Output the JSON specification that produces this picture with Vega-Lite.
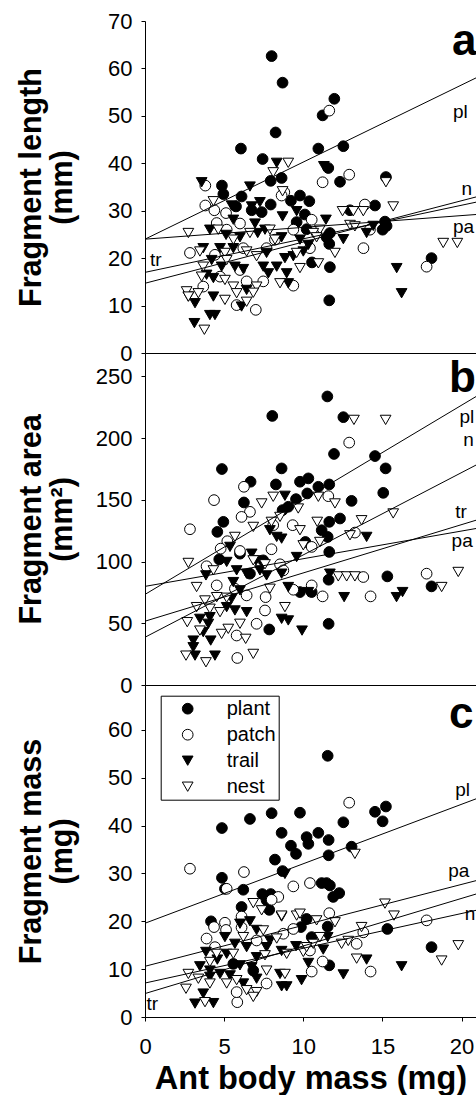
{
  "$schema": "https://vega.github.io/schema/vega-lite/v6.json",
  "background": "white",
  "padding": {"left": 16, "top": 10, "right": 0, "bottom": 0},
  "spacing": 0,
  "bounds": "flush",
  "config": {
    "font": "Liberation Sans",
    "view": {"stroke": null},
    "axis": {
      "grid": false,
      "domainColor": "black",
      "domainWidth": 1,
      "tickColor": "black",
      "tickWidth": 1,
      "tickSize": 4,
      "labelColor": "black",
      "labelFont": "Liberation Sans",
      "labelFontSize": 22,
      "labelFlush": false,
      "labelOverlap": false,
      "titleColor": "black",
      "titleFont": "Liberation Sans",
      "titleFontWeight": "bold"
    }
  },
  "datasets": {
    "lengthPts": [
      {"group": "plant", "x": 8.0, "y": 62.6}, {"group": "plant", "x": 8.69, "y": 57.0}, {"group": "plant", "x": 11.96, "y": 53.6}, {"group": "plant", "x": 11.22, "y": 50.1},
      {"group": "plant", "x": 8.25, "y": 46.5}, {"group": "plant", "x": 6.06, "y": 43.1}, {"group": "plant", "x": 10.95, "y": 43.1}, {"group": "plant", "x": 12.53, "y": 43.6},
      {"group": "plant", "x": 7.43, "y": 40.9}, {"group": "plant", "x": 11.58, "y": 39.0}, {"group": "plant", "x": 8.63, "y": 36.9}, {"group": "plant", "x": 7.94, "y": 36.3},
      {"group": "plant", "x": 12.32, "y": 36.1}, {"group": "plant", "x": 15.22, "y": 37.1}, {"group": "plant", "x": 4.86, "y": 35.3}, {"group": "plant", "x": 4.95, "y": 33.5},
      {"group": "plant", "x": 6.1, "y": 33.0}, {"group": "plant", "x": 9.79, "y": 33.2}, {"group": "plant", "x": 9.22, "y": 32.1}, {"group": "plant", "x": 10.38, "y": 32.0},
      {"group": "plant", "x": 7.94, "y": 31.3}, {"group": "plant", "x": 5.75, "y": 30.9}, {"group": "plant", "x": 14.53, "y": 31.1}, {"group": "plant", "x": 12.95, "y": 30.1},
      {"group": "plant", "x": 6.74, "y": 30.1}, {"group": "plant", "x": 7.37, "y": 29.7}, {"group": "plant", "x": 10.1, "y": 29.2}, {"group": "plant", "x": 9.58, "y": 27.6},
      {"group": "plant", "x": 10.21, "y": 26.1}, {"group": "plant", "x": 11.68, "y": 25.3}, {"group": "plant", "x": 11.64, "y": 23.0}, {"group": "plant", "x": 15.16, "y": 27.7},
      {"group": "plant", "x": 15.01, "y": 26.0}, {"group": "plant", "x": 15.26, "y": 26.8}, {"group": "plant", "x": 10.55, "y": 19.1}, {"group": "plant", "x": 11.68, "y": 18.1},
      {"group": "plant", "x": 18.1, "y": 20.0}, {"group": "plant", "x": 11.64, "y": 11.1}, {"group": "plant", "x": 11.47, "y": 24.4},
      {"group": "patch", "x": 11.64, "y": 51.1}, {"group": "patch", "x": 12.9, "y": 37.6}, {"group": "patch", "x": 11.22, "y": 36.0}, {"group": "patch", "x": 3.81, "y": 35.3},
      {"group": "patch", "x": 8.8, "y": 33.9}, {"group": "patch", "x": 8.63, "y": 33.2}, {"group": "patch", "x": 3.81, "y": 31.1}, {"group": "patch", "x": 4.38, "y": 30.1},
      {"group": "patch", "x": 5.12, "y": 29.5}, {"group": "patch", "x": 13.89, "y": 31.3}, {"group": "patch", "x": 14.21, "y": 26.0}, {"group": "patch", "x": 13.8, "y": 22.1},
      {"group": "patch", "x": 4.53, "y": 27.4}, {"group": "patch", "x": 6.0, "y": 27.3}, {"group": "patch", "x": 5.16, "y": 26.0}, {"group": "patch", "x": 10.53, "y": 28.1},
      {"group": "patch", "x": 9.37, "y": 26.0}, {"group": "patch", "x": 10.42, "y": 22.1}, {"group": "patch", "x": 7.68, "y": 22.1}, {"group": "patch", "x": 2.84, "y": 21.1},
      {"group": "patch", "x": 4.42, "y": 20.7}, {"group": "patch", "x": 6.0, "y": 17.5}, {"group": "patch", "x": 6.42, "y": 15.1}, {"group": "patch", "x": 7.47, "y": 15.1},
      {"group": "patch", "x": 9.37, "y": 14.2}, {"group": "patch", "x": 3.68, "y": 14.0}, {"group": "patch", "x": 4.74, "y": 16.1}, {"group": "patch", "x": 5.79, "y": 10.1},
      {"group": "patch", "x": 7.0, "y": 9.1}, {"group": "patch", "x": 17.79, "y": 18.2}, {"group": "patch", "x": 8.21, "y": 23.9}, {"group": "patch", "x": 6.21, "y": 22.1},
      {"group": "trail", "x": 3.58, "y": 36.0}, {"group": "trail", "x": 8.32, "y": 40.1}, {"group": "trail", "x": 11.3, "y": 39.4}, {"group": "trail", "x": 6.63, "y": 35.1},
      {"group": "trail", "x": 5.47, "y": 31.1}, {"group": "trail", "x": 7.26, "y": 31.8}, {"group": "trail", "x": 6.74, "y": 30.9}, {"group": "trail", "x": 9.58, "y": 29.9},
      {"group": "trail", "x": 8.69, "y": 28.8}, {"group": "trail", "x": 5.58, "y": 28.1}, {"group": "trail", "x": 6.95, "y": 27.3}, {"group": "trail", "x": 11.43, "y": 28.1},
      {"group": "trail", "x": 4.1, "y": 26.0}, {"group": "trail", "x": 5.12, "y": 24.9}, {"group": "trail", "x": 6.0, "y": 24.4}, {"group": "trail", "x": 7.58, "y": 26.0},
      {"group": "trail", "x": 7.12, "y": 25.3}, {"group": "trail", "x": 8.63, "y": 24.4}, {"group": "trail", "x": 12.53, "y": 24.0}, {"group": "trail", "x": 14.0, "y": 25.3},
      {"group": "trail", "x": 14.42, "y": 26.8}, {"group": "trail", "x": 9.79, "y": 23.9}, {"group": "trail", "x": 10.32, "y": 22.8}, {"group": "trail", "x": 3.68, "y": 22.1},
      {"group": "trail", "x": 4.74, "y": 22.1}, {"group": "trail", "x": 5.58, "y": 22.1}, {"group": "trail", "x": 7.68, "y": 21.1}, {"group": "trail", "x": 8.84, "y": 20.0},
      {"group": "trail", "x": 9.37, "y": 20.4}, {"group": "trail", "x": 10.0, "y": 21.4}, {"group": "trail", "x": 4.21, "y": 19.6}, {"group": "trail", "x": 4.84, "y": 18.2},
      {"group": "trail", "x": 5.68, "y": 18.2}, {"group": "trail", "x": 6.21, "y": 17.7}, {"group": "trail", "x": 7.47, "y": 18.2}, {"group": "trail", "x": 8.32, "y": 18.2},
      {"group": "trail", "x": 15.9, "y": 17.9}, {"group": "trail", "x": 8.95, "y": 16.8}, {"group": "trail", "x": 7.79, "y": 16.8}, {"group": "trail", "x": 3.89, "y": 16.5},
      {"group": "trail", "x": 4.32, "y": 15.8}, {"group": "trail", "x": 9.05, "y": 14.7}, {"group": "trail", "x": 4.32, "y": 11.9}, {"group": "trail", "x": 2.74, "y": 11.9},
      {"group": "trail", "x": 3.16, "y": 10.5}, {"group": "trail", "x": 3.12, "y": 6.3}, {"group": "trail", "x": 6.1, "y": 9.8}, {"group": "trail", "x": 4.1, "y": 8.0},
      {"group": "trail", "x": 4.42, "y": 8.0}, {"group": "trail", "x": 16.21, "y": 12.6}, {"group": "trail", "x": 6.42, "y": 13.3},
      {"group": "nest", "x": 9.05, "y": 40.1}, {"group": "nest", "x": 8.1, "y": 38.1}, {"group": "nest", "x": 15.22, "y": 36.0}, {"group": "nest", "x": 8.69, "y": 34.1},
      {"group": "nest", "x": 4.32, "y": 32.0}, {"group": "nest", "x": 15.68, "y": 30.9}, {"group": "nest", "x": 12.48, "y": 29.9}, {"group": "nest", "x": 13.16, "y": 29.9},
      {"group": "nest", "x": 13.79, "y": 29.9}, {"group": "nest", "x": 2.74, "y": 25.3}, {"group": "nest", "x": 4.63, "y": 26.0}, {"group": "nest", "x": 7.89, "y": 26.0},
      {"group": "nest", "x": 6.63, "y": 25.3}, {"group": "nest", "x": 11.05, "y": 26.0}, {"group": "nest", "x": 10.63, "y": 25.3}, {"group": "nest", "x": 12.95, "y": 27.0},
      {"group": "nest", "x": 13.26, "y": 26.7}, {"group": "nest", "x": 8.21, "y": 23.9}, {"group": "nest", "x": 10.84, "y": 24.4}, {"group": "nest", "x": 5.58, "y": 23.9},
      {"group": "nest", "x": 3.47, "y": 21.4}, {"group": "nest", "x": 5.05, "y": 21.1}, {"group": "nest", "x": 6.42, "y": 21.4}, {"group": "nest", "x": 7.05, "y": 20.4},
      {"group": "nest", "x": 12.0, "y": 21.1}, {"group": "nest", "x": 9.58, "y": 21.1}, {"group": "nest", "x": 10.95, "y": 18.9}, {"group": "nest", "x": 5.16, "y": 19.6},
      {"group": "nest", "x": 9.79, "y": 17.9}, {"group": "nest", "x": 3.68, "y": 18.2}, {"group": "nest", "x": 3.58, "y": 16.1}, {"group": "nest", "x": 5.05, "y": 15.4},
      {"group": "nest", "x": 5.58, "y": 14.0}, {"group": "nest", "x": 8.53, "y": 14.7}, {"group": "nest", "x": 7.05, "y": 14.0}, {"group": "nest", "x": 2.63, "y": 13.0},
      {"group": "nest", "x": 3.37, "y": 12.6}, {"group": "nest", "x": 2.74, "y": 11.9}, {"group": "nest", "x": 5.05, "y": 11.2}, {"group": "nest", "x": 5.79, "y": 12.6},
      {"group": "nest", "x": 6.84, "y": 12.7}, {"group": "nest", "x": 6.42, "y": 10.8}, {"group": "nest", "x": 3.75, "y": 4.9}, {"group": "nest", "x": 18.84, "y": 23.2},
      {"group": "nest", "x": 19.73, "y": 23.2}
    ],
    "areaPts": [
      {"group": "plant", "x": 11.52, "y": 233.8}, {"group": "plant", "x": 8.04, "y": 218.0}, {"group": "plant", "x": 12.53, "y": 217.0}, {"group": "plant", "x": 11.94, "y": 187.2},
      {"group": "plant", "x": 14.53, "y": 185.5}, {"group": "plant", "x": 4.86, "y": 175.0}, {"group": "plant", "x": 8.63, "y": 175.5}, {"group": "plant", "x": 15.2, "y": 175.5},
      {"group": "plant", "x": 6.67, "y": 164.7}, {"group": "plant", "x": 8.27, "y": 162.5}, {"group": "plant", "x": 9.79, "y": 164.7}, {"group": "plant", "x": 10.32, "y": 167.4},
      {"group": "plant", "x": 10.95, "y": 160.6}, {"group": "plant", "x": 11.64, "y": 162.5}, {"group": "plant", "x": 10.25, "y": 155.2}, {"group": "plant", "x": 6.25, "y": 147.9},
      {"group": "plant", "x": 9.54, "y": 150.6}, {"group": "plant", "x": 13.05, "y": 149.2}, {"group": "plant", "x": 15.05, "y": 155.7}, {"group": "plant", "x": 9.05, "y": 144.4},
      {"group": "plant", "x": 8.69, "y": 141.7}, {"group": "plant", "x": 4.95, "y": 132.2}, {"group": "plant", "x": 11.64, "y": 132.2}, {"group": "plant", "x": 12.32, "y": 134.9},
      {"group": "plant", "x": 4.57, "y": 124.1}, {"group": "plant", "x": 11.16, "y": 125.4}, {"group": "plant", "x": 11.54, "y": 120.0}, {"group": "plant", "x": 10.13, "y": 115.9},
      {"group": "plant", "x": 11.64, "y": 107.8}, {"group": "plant", "x": 4.69, "y": 101.8}, {"group": "plant", "x": 11.6, "y": 85.3}, {"group": "plant", "x": 15.31, "y": 88.0},
      {"group": "plant", "x": 9.79, "y": 75.3}, {"group": "plant", "x": 10.53, "y": 75.3}, {"group": "plant", "x": 18.1, "y": 79.9}, {"group": "plant", "x": 7.85, "y": 45.0},
      {"group": "plant", "x": 11.6, "y": 49.6}, {"group": "plant", "x": 6.0, "y": 106.4}, {"group": "plant", "x": 7.47, "y": 101.0}, {"group": "plant", "x": 6.63, "y": 90.2},
      {"group": "patch", "x": 2.84, "y": 126.2}, {"group": "patch", "x": 4.36, "y": 149.8}, {"group": "patch", "x": 6.25, "y": 160.6}, {"group": "patch", "x": 6.63, "y": 140.3},
      {"group": "patch", "x": 6.1, "y": 136.2}, {"group": "patch", "x": 12.9, "y": 196.4}, {"group": "patch", "x": 11.58, "y": 153.0}, {"group": "patch", "x": 9.33, "y": 129.5},
      {"group": "patch", "x": 13.26, "y": 123.5}, {"group": "patch", "x": 8.1, "y": 129.5}, {"group": "patch", "x": 10.53, "y": 111.9}, {"group": "patch", "x": 7.99, "y": 110.0},
      {"group": "patch", "x": 5.2, "y": 116.5}, {"group": "patch", "x": 4.78, "y": 110.5}, {"group": "patch", "x": 6.0, "y": 108.6}, {"group": "patch", "x": 8.53, "y": 97.8},
      {"group": "patch", "x": 3.89, "y": 96.2}, {"group": "patch", "x": 4.53, "y": 80.7}, {"group": "patch", "x": 5.68, "y": 78.0}, {"group": "patch", "x": 6.42, "y": 72.6},
      {"group": "patch", "x": 7.62, "y": 71.2}, {"group": "patch", "x": 9.37, "y": 77.2}, {"group": "patch", "x": 10.53, "y": 80.7}, {"group": "patch", "x": 11.22, "y": 71.8},
      {"group": "patch", "x": 13.79, "y": 87.5}, {"group": "patch", "x": 14.25, "y": 71.8}, {"group": "patch", "x": 17.79, "y": 90.2}, {"group": "patch", "x": 7.58, "y": 60.4},
      {"group": "patch", "x": 7.05, "y": 49.6}, {"group": "patch", "x": 5.79, "y": 40.1}, {"group": "patch", "x": 5.83, "y": 21.9}, {"group": "patch", "x": 8.74, "y": 92.9},
      {"group": "trail", "x": 8.84, "y": 153.3}, {"group": "trail", "x": 7.89, "y": 125.4}, {"group": "trail", "x": 8.32, "y": 120.0}, {"group": "trail", "x": 8.63, "y": 118.6},
      {"group": "trail", "x": 14.0, "y": 120.0}, {"group": "trail", "x": 6.74, "y": 106.4}, {"group": "trail", "x": 9.58, "y": 103.7}, {"group": "trail", "x": 5.37, "y": 111.9},
      {"group": "trail", "x": 3.85, "y": 88.8}, {"group": "trail", "x": 5.16, "y": 99.7}, {"group": "trail", "x": 5.79, "y": 92.9}, {"group": "trail", "x": 7.01, "y": 101.0},
      {"group": "trail", "x": 7.26, "y": 92.9}, {"group": "trail", "x": 7.68, "y": 88.8}, {"group": "trail", "x": 8.63, "y": 90.2}, {"group": "trail", "x": 9.05, "y": 79.4},
      {"group": "trail", "x": 5.58, "y": 83.4}, {"group": "trail", "x": 6.42, "y": 90.2}, {"group": "trail", "x": 6.0, "y": 76.7}, {"group": "trail", "x": 5.47, "y": 69.9},
      {"group": "trail", "x": 5.16, "y": 63.1}, {"group": "trail", "x": 5.68, "y": 60.4}, {"group": "trail", "x": 6.42, "y": 59.0}, {"group": "trail", "x": 3.47, "y": 53.6},
      {"group": "trail", "x": 4.1, "y": 55.0}, {"group": "trail", "x": 4.0, "y": 49.6}, {"group": "trail", "x": 8.63, "y": 53.6}, {"group": "trail", "x": 9.05, "y": 52.3},
      {"group": "trail", "x": 9.92, "y": 44.1}, {"group": "trail", "x": 11.68, "y": 90.2}, {"group": "trail", "x": 12.58, "y": 71.2}, {"group": "trail", "x": 15.89, "y": 71.2},
      {"group": "trail", "x": 16.27, "y": 75.3}, {"group": "trail", "x": 3.68, "y": 42.8}, {"group": "trail", "x": 3.05, "y": 36.0}, {"group": "trail", "x": 4.15, "y": 36.0},
      {"group": "trail", "x": 3.05, "y": 30.6}, {"group": "trail", "x": 3.16, "y": 23.8}, {"group": "trail", "x": 4.42, "y": 23.8}, {"group": "trail", "x": 10.32, "y": 75.3},
      {"group": "nest", "x": 13.2, "y": 214.8}, {"group": "nest", "x": 15.2, "y": 214.8}, {"group": "nest", "x": 7.37, "y": 147.1}, {"group": "nest", "x": 8.1, "y": 152.5},
      {"group": "nest", "x": 10.95, "y": 152.5}, {"group": "nest", "x": 12.0, "y": 147.1}, {"group": "nest", "x": 9.68, "y": 143.0}, {"group": "nest", "x": 8.53, "y": 136.2},
      {"group": "nest", "x": 10.88, "y": 132.2}, {"group": "nest", "x": 13.68, "y": 133.5}, {"group": "nest", "x": 15.68, "y": 139.0}, {"group": "nest", "x": 6.84, "y": 128.1},
      {"group": "nest", "x": 7.99, "y": 132.2}, {"group": "nest", "x": 12.95, "y": 121.3}, {"group": "nest", "x": 9.79, "y": 125.4}, {"group": "nest", "x": 11.05, "y": 115.9},
      {"group": "nest", "x": 10.0, "y": 113.2}, {"group": "nest", "x": 5.68, "y": 120.0}, {"group": "nest", "x": 2.74, "y": 98.9}, {"group": "nest", "x": 4.32, "y": 92.9},
      {"group": "nest", "x": 6.84, "y": 101.0}, {"group": "nest", "x": 7.58, "y": 97.8}, {"group": "nest", "x": 12.21, "y": 88.0}, {"group": "nest", "x": 12.74, "y": 88.0},
      {"group": "nest", "x": 13.26, "y": 88.0}, {"group": "nest", "x": 19.79, "y": 91.6}, {"group": "nest", "x": 18.74, "y": 79.4}, {"group": "nest", "x": 3.26, "y": 79.4},
      {"group": "nest", "x": 3.79, "y": 68.5}, {"group": "nest", "x": 4.53, "y": 71.2}, {"group": "nest", "x": 5.16, "y": 70.7}, {"group": "nest", "x": 7.89, "y": 78.0},
      {"group": "nest", "x": 3.26, "y": 63.1}, {"group": "nest", "x": 4.1, "y": 61.8}, {"group": "nest", "x": 4.74, "y": 59.0}, {"group": "nest", "x": 2.67, "y": 50.9},
      {"group": "nest", "x": 3.47, "y": 44.1}, {"group": "nest", "x": 4.84, "y": 41.4}, {"group": "nest", "x": 5.26, "y": 45.5}, {"group": "nest", "x": 6.36, "y": 37.4},
      {"group": "nest", "x": 8.84, "y": 63.1}, {"group": "nest", "x": 2.59, "y": 23.8}, {"group": "nest", "x": 3.85, "y": 18.4}, {"group": "nest", "x": 6.84, "y": 25.2},
      {"group": "nest", "x": 6.0, "y": 49.6}
    ],
    "massPts": [
      {"group": "plant", "x": 11.54, "y": 54.6}, {"group": "plant", "x": 4.86, "y": 39.5}, {"group": "plant", "x": 6.63, "y": 41.4}, {"group": "plant", "x": 8.0, "y": 42.6},
      {"group": "plant", "x": 9.79, "y": 42.7}, {"group": "plant", "x": 12.53, "y": 40.7}, {"group": "plant", "x": 14.53, "y": 42.9}, {"group": "plant", "x": 15.22, "y": 44.0},
      {"group": "plant", "x": 15.01, "y": 40.9}, {"group": "plant", "x": 8.63, "y": 38.5}, {"group": "plant", "x": 10.21, "y": 37.6}, {"group": "plant", "x": 10.32, "y": 36.2},
      {"group": "plant", "x": 10.95, "y": 38.5}, {"group": "plant", "x": 11.6, "y": 37.0}, {"group": "plant", "x": 9.22, "y": 35.8}, {"group": "plant", "x": 9.54, "y": 34.1},
      {"group": "plant", "x": 13.05, "y": 35.6}, {"group": "plant", "x": 11.6, "y": 33.8}, {"group": "plant", "x": 8.21, "y": 32.9}, {"group": "plant", "x": 8.69, "y": 30.5},
      {"group": "plant", "x": 4.86, "y": 29.1}, {"group": "plant", "x": 5.05, "y": 26.8}, {"group": "plant", "x": 6.21, "y": 26.6}, {"group": "plant", "x": 11.16, "y": 28.0},
      {"group": "plant", "x": 11.47, "y": 28.0}, {"group": "plant", "x": 11.68, "y": 27.5}, {"group": "plant", "x": 11.89, "y": 25.1}, {"group": "plant", "x": 12.27, "y": 25.9},
      {"group": "plant", "x": 7.41, "y": 25.7}, {"group": "plant", "x": 7.68, "y": 24.4}, {"group": "plant", "x": 7.94, "y": 25.7}, {"group": "plant", "x": 6.1, "y": 23.0},
      {"group": "plant", "x": 7.85, "y": 22.4}, {"group": "plant", "x": 4.17, "y": 20.0}, {"group": "plant", "x": 10.21, "y": 20.5}, {"group": "plant", "x": 9.85, "y": 18.8},
      {"group": "plant", "x": 11.54, "y": 18.9}, {"group": "plant", "x": 15.31, "y": 18.4}, {"group": "plant", "x": 10.53, "y": 16.7}, {"group": "plant", "x": 11.64, "y": 10.8},
      {"group": "plant", "x": 18.1, "y": 14.6}, {"group": "plant", "x": 5.58, "y": 11.1}, {"group": "plant", "x": 6.84, "y": 9.7},
      {"group": "patch", "x": 12.9, "y": 44.8}, {"group": "patch", "x": 2.84, "y": 31.0}, {"group": "patch", "x": 6.25, "y": 30.3}, {"group": "patch", "x": 10.42, "y": 28.0},
      {"group": "patch", "x": 9.37, "y": 27.3}, {"group": "patch", "x": 5.16, "y": 26.8}, {"group": "patch", "x": 8.42, "y": 25.1}, {"group": "patch", "x": 8.0, "y": 24.5},
      {"group": "patch", "x": 11.64, "y": 21.7}, {"group": "patch", "x": 6.1, "y": 21.0}, {"group": "patch", "x": 5.05, "y": 19.7}, {"group": "patch", "x": 4.36, "y": 18.8},
      {"group": "patch", "x": 5.12, "y": 18.2}, {"group": "patch", "x": 6.1, "y": 18.7}, {"group": "patch", "x": 9.37, "y": 18.4}, {"group": "patch", "x": 3.89, "y": 16.4},
      {"group": "patch", "x": 4.42, "y": 14.6}, {"group": "patch", "x": 13.79, "y": 17.7}, {"group": "patch", "x": 13.37, "y": 15.3}, {"group": "patch", "x": 17.79, "y": 20.2},
      {"group": "patch", "x": 11.22, "y": 11.6}, {"group": "patch", "x": 10.53, "y": 9.5}, {"group": "patch", "x": 14.25, "y": 9.5}, {"group": "patch", "x": 7.68, "y": 7.0},
      {"group": "patch", "x": 5.83, "y": 3.1}, {"group": "patch", "x": 5.79, "y": 5.2}, {"group": "patch", "x": 10.42, "y": 13.9}, {"group": "patch", "x": 7.05, "y": 16.0},
      {"group": "patch", "x": 8.74, "y": 17.4},
      {"group": "trail", "x": 8.84, "y": 29.9}, {"group": "trail", "x": 6.63, "y": 20.0}, {"group": "trail", "x": 8.63, "y": 21.0}, {"group": "trail", "x": 7.05, "y": 18.2},
      {"group": "trail", "x": 7.89, "y": 16.0}, {"group": "trail", "x": 11.54, "y": 16.7}, {"group": "trail", "x": 6.0, "y": 19.5}, {"group": "trail", "x": 5.05, "y": 16.7},
      {"group": "trail", "x": 5.68, "y": 15.3}, {"group": "trail", "x": 6.42, "y": 14.6}, {"group": "trail", "x": 3.85, "y": 13.6}, {"group": "trail", "x": 9.54, "y": 14.8},
      {"group": "trail", "x": 11.26, "y": 14.1}, {"group": "trail", "x": 8.63, "y": 13.8}, {"group": "trail", "x": 4.57, "y": 12.0}, {"group": "trail", "x": 5.16, "y": 13.2},
      {"group": "trail", "x": 7.05, "y": 12.5}, {"group": "trail", "x": 7.68, "y": 14.6}, {"group": "trail", "x": 10.32, "y": 11.3}, {"group": "trail", "x": 14.0, "y": 12.0},
      {"group": "trail", "x": 3.47, "y": 10.6}, {"group": "trail", "x": 4.1, "y": 9.7}, {"group": "trail", "x": 6.0, "y": 10.8}, {"group": "trail", "x": 6.74, "y": 10.4},
      {"group": "trail", "x": 8.53, "y": 9.0}, {"group": "trail", "x": 4.1, "y": 8.4}, {"group": "trail", "x": 4.74, "y": 9.0}, {"group": "trail", "x": 5.37, "y": 8.7},
      {"group": "trail", "x": 6.21, "y": 7.0}, {"group": "trail", "x": 7.05, "y": 8.0}, {"group": "trail", "x": 12.53, "y": 8.9}, {"group": "trail", "x": 16.21, "y": 10.6},
      {"group": "trail", "x": 8.63, "y": 6.4}, {"group": "trail", "x": 9.89, "y": 7.7}, {"group": "trail", "x": 8.95, "y": 6.4}, {"group": "trail", "x": 3.68, "y": 4.9},
      {"group": "trail", "x": 3.16, "y": 2.8}, {"group": "trail", "x": 4.32, "y": 2.9},
      {"group": "nest", "x": 13.26, "y": 34.1}, {"group": "nest", "x": 15.16, "y": 23.7}, {"group": "nest", "x": 15.73, "y": 21.2}, {"group": "nest", "x": 12.0, "y": 19.8},
      {"group": "nest", "x": 6.84, "y": 23.8}, {"group": "nest", "x": 7.37, "y": 22.3}, {"group": "nest", "x": 8.63, "y": 21.2}, {"group": "nest", "x": 9.58, "y": 21.2},
      {"group": "nest", "x": 9.79, "y": 21.6}, {"group": "nest", "x": 10.84, "y": 20.2}, {"group": "nest", "x": 13.68, "y": 18.8}, {"group": "nest", "x": 12.84, "y": 15.9},
      {"group": "nest", "x": 12.42, "y": 15.3}, {"group": "nest", "x": 13.37, "y": 12.2}, {"group": "nest", "x": 19.79, "y": 15.0}, {"group": "nest", "x": 18.74, "y": 11.8},
      {"group": "nest", "x": 7.47, "y": 18.1}, {"group": "nest", "x": 8.32, "y": 16.4}, {"group": "nest", "x": 8.95, "y": 13.2}, {"group": "nest", "x": 10.63, "y": 15.3},
      {"group": "nest", "x": 10.0, "y": 13.6}, {"group": "nest", "x": 11.05, "y": 16.7}, {"group": "nest", "x": 6.21, "y": 16.7}, {"group": "nest", "x": 5.58, "y": 13.2},
      {"group": "nest", "x": 4.53, "y": 13.2}, {"group": "nest", "x": 4.1, "y": 11.5}, {"group": "nest", "x": 7.58, "y": 12.9}, {"group": "nest", "x": 7.68, "y": 9.7},
      {"group": "nest", "x": 8.84, "y": 9.0}, {"group": "nest", "x": 2.74, "y": 9.0}, {"group": "nest", "x": 3.37, "y": 8.0}, {"group": "nest", "x": 2.59, "y": 5.9},
      {"group": "nest", "x": 4.1, "y": 7.0}, {"group": "nest", "x": 5.16, "y": 7.0}, {"group": "nest", "x": 5.79, "y": 7.7}, {"group": "nest", "x": 6.42, "y": 5.6},
      {"group": "nest", "x": 7.05, "y": 5.2}, {"group": "nest", "x": 6.84, "y": 4.2}, {"group": "nest", "x": 3.79, "y": 3.1}, {"group": "nest", "x": 10.21, "y": 14.6}
    ],
    "fits": [
      {"panel": "a", "fit": "pl", "x": 0, "y": 24.0}, {"panel": "a", "fit": "pl", "x": 20.91, "y": 58.0},
      {"panel": "a", "fit": "pa", "x": 0, "y": 24.0}, {"panel": "a", "fit": "pa", "x": 20.91, "y": 29.2},
      {"panel": "a", "fit": "tr", "x": 0, "y": 17.0}, {"panel": "a", "fit": "tr", "x": 20.91, "y": 31.8},
      {"panel": "a", "fit": "n", "x": 0, "y": 14.7}, {"panel": "a", "fit": "n", "x": 20.91, "y": 32.9},
      {"panel": "b", "fit": "pl", "x": 0, "y": 73.4}, {"panel": "b", "fit": "pl", "x": 20.91, "y": 233.7},
      {"panel": "b", "fit": "pa", "x": 0, "y": 79.9}, {"panel": "b", "fit": "pa", "x": 20.91, "y": 126.8},
      {"panel": "b", "fit": "tr", "x": 0, "y": 51.7}, {"panel": "b", "fit": "tr", "x": 20.91, "y": 133.5},
      {"panel": "b", "fit": "n", "x": 0, "y": 38.7}, {"panel": "b", "fit": "n", "x": 20.91, "y": 178.2},
      {"panel": "c", "fit": "pl", "x": 0, "y": 19.6}, {"panel": "c", "fit": "pl", "x": 20.91, "y": 45.6},
      {"panel": "c", "fit": "pa", "x": 0, "y": 10.6}, {"panel": "c", "fit": "pa", "x": 20.91, "y": 28.5},
      {"panel": "c", "fit": "n", "x": 0, "y": 7.1}, {"panel": "c", "fit": "n", "x": 20.91, "y": 22.3},
      {"panel": "c", "fit": "tr", "x": 0, "y": 4.9}, {"panel": "c", "fit": "tr", "x": 20.91, "y": 25.7}
    ],
    "tags": [
      {"panel": "a", "tag": "pl", "x": 19.46, "y": 49.6}, {"panel": "a", "tag": "n", "x": 20.0, "y": 33.4},
      {"panel": "a", "tag": "pa", "x": 19.46, "y": 25.4}, {"panel": "a", "tag": "tr", "x": 0.32, "y": 18.3},
      {"panel": "b", "tag": "pl", "x": 19.86, "y": 212.0}, {"panel": "b", "tag": "n", "x": 20.1, "y": 193.5},
      {"panel": "b", "tag": "tr", "x": 19.6, "y": 135.0}, {"panel": "b", "tag": "pa", "x": 19.37, "y": 111.9},
      {"panel": "c", "tag": "pl", "x": 19.6, "y": 46.3}, {"panel": "c", "tag": "pa", "x": 19.16, "y": 29.2},
      {"panel": "c", "tag": "n", "x": 20.2, "y": 20.2}, {"panel": "c", "tag": "tr", "x": 0.1, "y": 1.4}
    ],
    "letters": [
      {"panel": "a", "letter": "a", "x": 19.4, "y": 62.9},
      {"panel": "b", "letter": "b", "x": 19.2, "y": 237.6},
      {"panel": "c", "letter": "c", "x": 19.2, "y": 60.5}
    ]
  },
  "resolve": {
    "scale": {"y": "independent"},
    "legend": {"fill": "independent", "shape": "independent", "stroke": "independent"}
  },
  "vconcat": [
    {
      "width": 331,
      "height": 332,
      "layer": [
        {
          "data": {"name": "lengthPts"},
          "mark": {"type": "point", "filled": true, "strokeWidth": 1, "opacity": 1},
          "encoding": {
            "x": {"field": "x", "type": "quantitative", "scale": {"domain": [0, 20.91], "nice": false, "zero": false},
                  "axis": {"labels": false, "ticks": false, "title": null}},
            "y": {"field": "y", "type": "quantitative", "scale": {"domain": [0, 70], "nice": false},
                  "axis": {"values": [0, 10, 20, 30, 40, 50, 60, 70], "labelPadding": 9,
                           "title": ["Fragment length", "(mm)"], "titleFontSize": 30.5, "titleAngle": 270,
                           "titleAlign": "center", "titleBaseline": "alphabetic", "titleLineHeight": 31,
                           "titleX": -104.4, "titleY": 166}},
            "fill": {"field": "group", "type": "nominal", "scale": {"domain": ["plant", "patch", "trail", "nest"], "range": ["black", "white", "black", "white"]}, "legend": null},
            "stroke": {"field": "group", "type": "nominal", "scale": {"domain": ["plant", "patch", "trail", "nest"], "range": ["black", "black", "black", "black"]}, "legend": null},
            "shape": {"field": "group", "type": "nominal", "scale": {"domain": ["plant", "patch", "trail", "nest"], "range": ["circle", "circle", "triangle-down", "triangle-down"]}, "legend": null},
            "size": {"field": "group", "type": "nominal", "scale": {"domain": ["plant", "patch", "trail", "nest"], "range": [115, 115, 150, 150]}, "legend": null}
          }
        },
        {
          "data": {"name": "fits"},
          "transform": [{"filter": "datum.panel === 'a'"}],
          "mark": {"type": "line", "color": "black", "strokeWidth": 1, "clip": true},
          "encoding": {
            "x": {"field": "x", "type": "quantitative"},
            "y": {"field": "y", "type": "quantitative"},
            "detail": {"field": "fit"}
          }
        },
        {
          "data": {"name": "tags"},
          "transform": [{"filter": "datum.panel === 'a'"}],
          "mark": {"type": "text", "align": "left", "baseline": "alphabetic", "font": "Liberation Sans", "fontSize": 19, "color": "black", "clip": true},
          "encoding": {
            "x": {"field": "x", "type": "quantitative"},
            "y": {"field": "y", "type": "quantitative"},
            "text": {"field": "tag"}
          }
        },
        {
          "data": {"name": "letters"},
          "transform": [{"filter": "datum.panel === 'a'"}],
          "mark": {"type": "text", "align": "left", "baseline": "alphabetic", "font": "Liberation Sans", "fontSize": 44, "fontWeight": "bold", "color": "black", "clip": true},
          "encoding": {
            "x": {"field": "x", "type": "quantitative"},
            "y": {"field": "y", "type": "quantitative"},
            "text": {"field": "letter"}
          }
        },
        {
          "mark": {"type": "rule", "color": "black", "strokeWidth": 1},
          "encoding": {"y": {"datum": 70}}
        }
      ]
    },
    {
      "width": 331,
      "height": 332,
      "layer": [
        {
          "data": {"name": "areaPts"},
          "mark": {"type": "point", "filled": true, "strokeWidth": 1, "opacity": 1},
          "encoding": {
            "x": {"field": "x", "type": "quantitative", "scale": {"domain": [0, 20.91], "nice": false, "zero": false},
                  "axis": {"labels": false, "ticks": false, "title": null}},
            "y": {"field": "y", "type": "quantitative", "scale": {"domain": [0, 269], "nice": false},
                  "axis": {"values": [0, 50, 100, 150, 200, 250], "labelPadding": 9,
                           "title": ["Fragment area", "(mm²)"], "titleFontSize": 30.5, "titleAngle": 270,
                           "titleAlign": "center", "titleBaseline": "alphabetic", "titleLineHeight": 31,
                           "titleX": -104.4, "titleY": 166}},
            "fill": {"field": "group", "type": "nominal", "scale": {"domain": ["plant", "patch", "trail", "nest"], "range": ["black", "white", "black", "white"]}, "legend": null},
            "stroke": {"field": "group", "type": "nominal", "scale": {"domain": ["plant", "patch", "trail", "nest"], "range": ["black", "black", "black", "black"]}, "legend": null},
            "shape": {"field": "group", "type": "nominal", "scale": {"domain": ["plant", "patch", "trail", "nest"], "range": ["circle", "circle", "triangle-down", "triangle-down"]}, "legend": null},
            "size": {"field": "group", "type": "nominal", "scale": {"domain": ["plant", "patch", "trail", "nest"], "range": [115, 115, 150, 150]}, "legend": null}
          }
        },
        {
          "data": {"name": "fits"},
          "transform": [{"filter": "datum.panel === 'b'"}],
          "mark": {"type": "line", "color": "black", "strokeWidth": 1, "clip": true},
          "encoding": {
            "x": {"field": "x", "type": "quantitative"},
            "y": {"field": "y", "type": "quantitative"},
            "detail": {"field": "fit"}
          }
        },
        {
          "data": {"name": "tags"},
          "transform": [{"filter": "datum.panel === 'b'"}],
          "mark": {"type": "text", "align": "left", "baseline": "alphabetic", "font": "Liberation Sans", "fontSize": 19, "color": "black", "clip": true},
          "encoding": {
            "x": {"field": "x", "type": "quantitative"},
            "y": {"field": "y", "type": "quantitative"},
            "text": {"field": "tag"}
          }
        },
        {
          "data": {"name": "letters"},
          "transform": [{"filter": "datum.panel === 'b'"}],
          "mark": {"type": "text", "align": "left", "baseline": "alphabetic", "font": "Liberation Sans", "fontSize": 44, "fontWeight": "bold", "color": "black", "clip": true},
          "encoding": {
            "x": {"field": "x", "type": "quantitative"},
            "y": {"field": "y", "type": "quantitative"},
            "text": {"field": "letter"}
          }
        }
      ]
    },
    {
      "width": 331,
      "height": 332,
      "layer": [
        {
          "data": {"name": "massPts"},
          "mark": {"type": "point", "filled": true, "strokeWidth": 1, "opacity": 1},
          "encoding": {
            "x": {"field": "x", "type": "quantitative", "scale": {"domain": [0, 20.91], "nice": false, "zero": false},
                  "axis": {"values": [0, 5, 10, 15, 20], "labelPadding": 15,
                           "title": "Ant body mass (mg)", "titleFontSize": 32.5, "titleBaseline": "alphabetic",
                           "titleAnchor": "middle", "titleY": 71.6}},
            "y": {"field": "y", "type": "quantitative", "scale": {"domain": [0, 69.4], "nice": false},
                  "axis": {"values": [0, 10, 20, 30, 40, 50, 60], "labelPadding": 9,
                           "title": ["Fragment mass", "(mg)"], "titleFontSize": 30.5, "titleAngle": 270,
                           "titleAlign": "center", "titleBaseline": "alphabetic", "titleLineHeight": 31,
                           "titleX": -104.4, "titleY": 166}},
            "fill": {"field": "group", "type": "nominal", "scale": {"domain": ["plant", "patch", "trail", "nest"], "range": ["black", "white", "black", "white"]},
                     "legend": {"orient": "none", "legendX": 15.7, "legendY": 10.7, "title": null, "strokeColor": "black", "fillColor": "white",
                                "padding": 3, "labelFont": "Liberation Sans", "labelFontSize": 20, "labelColor": "black", "symbolSize": 115,
                                "symbolStrokeWidth": 1, "symbolOffset": 14, "labelOffset": 29, "rowPadding": 6}},
            "stroke": {"field": "group", "type": "nominal", "scale": {"domain": ["plant", "patch", "trail", "nest"], "range": ["black", "black", "black", "black"]},
                       "legend": {"orient": "none", "legendX": 15.7, "legendY": 10.7, "title": null, "strokeColor": "black", "fillColor": "white",
                                  "padding": 3, "labelFont": "Liberation Sans", "labelFontSize": 20, "labelColor": "black", "symbolSize": 115,
                                  "symbolStrokeWidth": 1, "symbolOffset": 14, "labelOffset": 29, "rowPadding": 6}},
            "shape": {"field": "group", "type": "nominal", "scale": {"domain": ["plant", "patch", "trail", "nest"], "range": ["circle", "circle", "triangle-down", "triangle-down"]},
                      "legend": {"orient": "none", "legendX": 15.7, "legendY": 10.7, "title": null, "strokeColor": "black", "fillColor": "white",
                                 "padding": 3, "labelFont": "Liberation Sans", "labelFontSize": 20, "labelColor": "black", "symbolSize": 115,
                                 "symbolStrokeWidth": 1, "symbolOffset": 14, "labelOffset": 29, "rowPadding": 6}},
            "size": {"field": "group", "type": "nominal", "scale": {"domain": ["plant", "patch", "trail", "nest"], "range": [115, 115, 150, 150]}, "legend": null}
          }
        },
        {
          "data": {"name": "fits"},
          "transform": [{"filter": "datum.panel === 'c'"}],
          "mark": {"type": "line", "color": "black", "strokeWidth": 1, "clip": true},
          "encoding": {
            "x": {"field": "x", "type": "quantitative"},
            "y": {"field": "y", "type": "quantitative"},
            "detail": {"field": "fit"}
          }
        },
        {
          "data": {"name": "tags"},
          "transform": [{"filter": "datum.panel === 'c'"}],
          "mark": {"type": "text", "align": "left", "baseline": "alphabetic", "font": "Liberation Sans", "fontSize": 19, "color": "black", "clip": true},
          "encoding": {
            "x": {"field": "x", "type": "quantitative"},
            "y": {"field": "y", "type": "quantitative"},
            "text": {"field": "tag"}
          }
        },
        {
          "data": {"name": "letters"},
          "transform": [{"filter": "datum.panel === 'c'"}],
          "mark": {"type": "text", "align": "left", "baseline": "alphabetic", "font": "Liberation Sans", "fontSize": 44, "fontWeight": "bold", "color": "black", "clip": true},
          "encoding": {
            "x": {"field": "x", "type": "quantitative"},
            "y": {"field": "y", "type": "quantitative"},
            "text": {"field": "letter"}
          }
        }
      ]
    }
  ]
}
